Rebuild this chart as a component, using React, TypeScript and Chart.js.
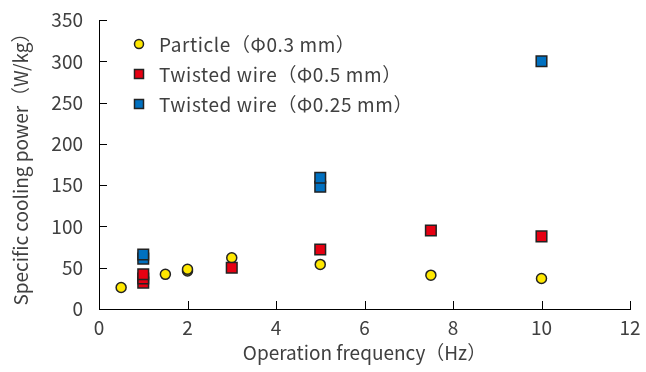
import React, { useEffect, useRef } from "react";
import { Chart, registerables } from "chart.js";

Chart.register(...registerables);

const particleX = [0.5, 1.5, 2, 2, 3, 5, 7.5, 10];
const particleY = [26, 42, 46, 48, 62, 54, 41, 37];
const wire05X = [1, 1, 1, 3, 5, 7.5, 10];
const wire05Y = [32, 37, 42, 50, 72, 95, 88];
const wire025X = [1, 1, 5, 5, 10];
const wire025Y = [61, 66, 148, 159, 300];

const seriesLabels = ["Particle（Φ0.3 mm）", "Twisted wire（Φ0.5 mm）", "Twisted wire（Φ0.25 mm）"];
const xTitle = "Operation frequency（Hz）";
const yTitle = "Specific cooling power（W/kg）";

const FONT = "'Noto Sans CJK JP', 'Noto Sans', sans-serif";
const TEXT = "#404040";

const toPts = (xs: number[], ys: number[]) => xs.map((x, i) => ({ x, y: ys[i] }));

const innerTicks = {
  id: "innerTicks",
  afterDraw(chart: any) {
    const { ctx, chartArea, scales } = chart;
    ctx.save();
    ctx.strokeStyle = "#000";
    ctx.lineWidth = 1;
    ctx.beginPath();
    scales.y.ticks.forEach((t: any) => {
      const py = Math.round(scales.y.getPixelForValue(t.value)) + 0.5;
      ctx.moveTo(chartArea.left, py);
      ctx.lineTo(chartArea.left + 8, py);
    });
    scales.x.ticks.forEach((t: any) => {
      const px = Math.round(scales.x.getPixelForValue(t.value)) + 0.5;
      ctx.moveTo(px, chartArea.bottom);
      ctx.lineTo(px, chartArea.bottom - 8);
    });
    ctx.stroke();
    ctx.restore();
  },
};

const customLegend = {
  id: "customLegend",
  afterDraw(chart: any) {
    const { ctx, chartArea } = chart;
    ctx.save();
    const x0 = chartArea.left + 40;
    const y0 = chartArea.top + 24;
    chart.data.datasets.forEach((ds: any, i: number) => {
      const y = y0 + i * 30;
      ctx.fillStyle = ds.backgroundColor;
      ctx.strokeStyle = "#222";
      ctx.lineWidth = 1.5;
      ctx.beginPath();
      if (ds.pointStyle === "circle") {
        ctx.arc(x0, y, 4.5, 0, Math.PI * 2);
      } else {
        ctx.rect(x0 - 4.5, y - 4.5, 9, 9);
      }
      ctx.fill();
      ctx.stroke();
      ctx.fillStyle = TEXT;
      ctx.font = `19px ${FONT}`;
      (ctx as any).letterSpacing = "0.6px";
      ctx.textBaseline = "middle";
      ctx.textAlign = "left";
      ctx.fillText(ds.label, x0 + 20, y + 1);
    });
    ctx.restore();
  },
};

export default function App() {
  const ref = useRef<HTMLCanvasElement>(null);
  useEffect(() => {
    document.body.style.margin = "0";
    const chart = new Chart(ref.current!, {
      type: "scatter",
      data: {
        datasets: [
          {
            label: seriesLabels[0],
            data: toPts(particleX, particleY),
            pointStyle: "circle",
            pointRadius: 5,
            backgroundColor: "#FFE800",
            borderColor: "#222",
            borderWidth: 1.5,
            order: 3,
          },
          {
            label: seriesLabels[1],
            data: toPts(wire05X, wire05Y),
            pointStyle: "rect",
            pointRadius: 7.5,
            backgroundColor: "#E60012",
            borderColor: "#222",
            borderWidth: 1.5,
            order: 2,
          },
          {
            label: seriesLabels[2],
            data: toPts(wire025X, wire025Y),
            pointStyle: "rect",
            pointRadius: 7.5,
            backgroundColor: "#0070C0",
            borderColor: "#222",
            borderWidth: 1.5,
            order: 1,
          },
        ] as any,
      },
      options: {
        animation: false,
        responsive: false,
        layout: { padding: { left: 9, top: 20, right: 16, bottom: 8 } },
        plugins: { legend: { display: false }, tooltip: { enabled: false } },
        scales: {
          x: {
            type: "linear",
            min: 0,
            max: 12,
            ticks: { stepSize: 2, color: TEXT, font: { family: FONT, size: 19 }, padding: 7 },
            grid: { display: false, drawTicks: false },
            border: { display: true, color: "#000", width: 1 },
            title: { display: true, text: xTitle, color: TEXT, font: { family: FONT, size: 19 }, padding: { top: 2, bottom: 0 } },
            afterFit: (s: any) => { s.height = 55; s.paddingLeft = 0; s.paddingRight = 0; },
          },
          y: {
            type: "linear",
            min: 0,
            max: 350,
            ticks: { stepSize: 50, color: TEXT, font: { family: FONT, size: 19 }, padding: 16 },
            grid: { display: false, drawTicks: false },
            border: { display: true, color: "#000", width: 1 },
            title: { display: true, text: yTitle, color: TEXT, font: { family: FONT, size: 19 }, padding: { top: 0, bottom: 0 } },
            afterFit: (s: any) => { s.width = 90; s.paddingTop = 0; s.paddingBottom = 0; },
          },
        },
      },
      plugins: [innerTicks, customLegend],
    });
    return () => chart.destroy();
  }, []);
  return (
    <div style={{ width: 646, height: 372 }}>
      <canvas ref={ref} width={646} height={372} style={{ display: "block" }} />
    </div>
  );
}
